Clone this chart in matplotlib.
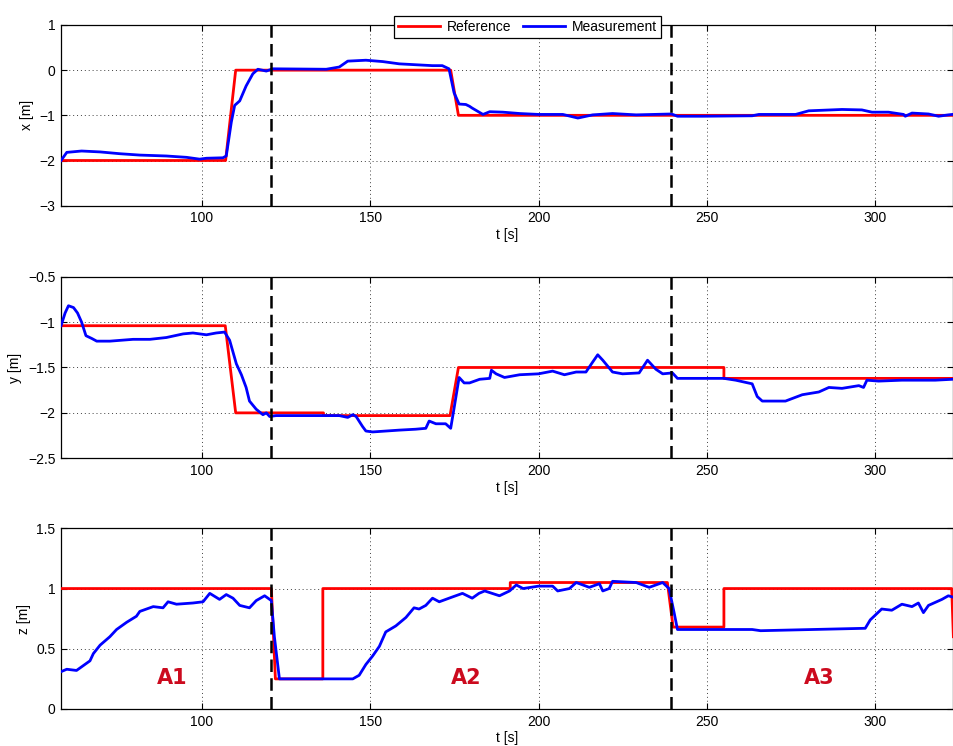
import matplotlib
matplotlib.use("Agg")
import matplotlib.pyplot as plt

plt.rcParams['font.family'] = ['Liberation Sans', 'DejaVu Sans']
plt.rcParams['font.size'] = 10

# ---- x position ----
x_ref_t = [58, 107.0, 110.0, 173.9, 176.2, 323.5]
x_ref = [-2, -2, 0, 0, -1, -1]
x_meas_t = [58.1, 59.8, 64.2, 69.7, 75.6, 81.5, 89.4, 95.4, 99.3, 101.3, 106.2, 107.2,
            108.7, 109.7, 111.2, 113.1, 115.1, 116.6, 119.1, 121.0, 136.9, 140.8, 143.3,
            148.7, 153.7, 158.6, 163.5, 168.5, 171.4, 173.4, 174.9, 176.4, 178.4, 179.5,
            180.3, 183.5, 185.5, 189.4, 194.4, 200.0, 207.2, 211.7, 216.1, 222.0, 229.0,
            239.5, 241.3, 248.7, 263.5, 265.5, 276.4, 280.3, 290.2, 296.1, 299.1, 304.0,
            308.5, 309.0, 311.0, 315.9, 318.9, 321.8, 323.0]
x_meas = [-2.0, -1.82, -1.79, -1.81, -1.85, -1.88, -1.9, -1.93, -1.97, -1.95, -1.94, -1.9,
          -1.15, -0.78, -0.68, -0.35, -0.08, 0.02, -0.02, 0.03, 0.02, 0.07, 0.2,
          0.22, 0.19, 0.14, 0.12, 0.1, 0.1, 0.03, -0.5, -0.75, -0.76, -0.8,
          -0.84, -0.98, -0.92, -0.93, -0.96, -0.98, -0.98, -1.06, -0.99, -0.96, -0.99,
          -0.97, -1.02, -1.02, -1.01, -0.98, -0.98, -0.9, -0.87, -0.88, -0.93, -0.93,
          -0.98, -1.02, -0.95, -0.97, -1.02, -0.99, -0.98]

# ---- y position ----
y_ref_t = [58, 106.9, 110.0, 136.1, 136.1, 173.7, 176.2, 255.1, 255.1, 323.5]
y_ref = [-1.04, -1.04, -2.0, -2.0, -2.03, -2.03, -1.5, -1.5, -1.62, -1.62]
y_meas_t = [58.1, 59.3, 60.3, 61.8, 63.0, 64.2, 65.5, 67.2, 68.7, 72.6, 79.5, 84.5, 89.4,
            94.4, 97.3, 101.3, 104.2, 106.7, 108.2, 110.2, 111.7, 113.1, 114.1, 116.1,
            118.1, 119.1, 120.1, 122.0, 140.8, 143.3, 144.8, 145.8, 147.7, 148.7, 150.7,
            158.6, 163.5, 166.5, 167.5, 169.5, 172.4, 173.9, 174.9, 176.4, 177.9, 179.5,
            182.5, 185.5, 186.0, 187.4, 189.9, 194.4, 200.0, 204.2, 207.7, 211.2, 214.1,
            216.1, 217.6, 219.1, 222.0, 225.0, 229.9, 232.4, 234.9, 236.9, 239.8, 240.8,
            241.3, 255.1, 258.6, 263.5, 265.0, 266.5, 273.4, 278.4, 283.3, 286.3, 290.2,
            295.2, 296.6, 297.6, 301.1, 308.0, 317.9, 323.0]
y_meas = [-1.04, -0.9, -0.82, -0.84, -0.9, -1.0, -1.15, -1.18, -1.21, -1.21, -1.19, -1.19, -1.17,
          -1.13, -1.12, -1.14, -1.12, -1.11, -1.2, -1.46, -1.58, -1.72, -1.87, -1.96,
          -2.02, -2.0, -2.04, -2.03, -2.03, -2.05, -2.02, -2.04, -2.15, -2.2, -2.21,
          -2.19, -2.18, -2.17, -2.09, -2.12, -2.12, -2.17, -1.95, -1.61, -1.67, -1.67,
          -1.63, -1.62, -1.53, -1.57, -1.61, -1.58, -1.57, -1.54, -1.58, -1.55, -1.55,
          -1.44, -1.36, -1.42, -1.55, -1.57, -1.56, -1.42, -1.52, -1.57, -1.56, -1.6,
          -1.62, -1.62, -1.64, -1.68, -1.82, -1.87, -1.87, -1.8, -1.77, -1.72, -1.73,
          -1.7, -1.72, -1.64, -1.65, -1.64, -1.64, -1.63]

# ---- z position ----
z_ref_t = [58, 120.6, 121.8, 135.9, 135.9, 191.6, 191.6, 238.3, 240.0, 255.1, 255.1, 322.8, 323.3]
z_ref = [1.0, 1.0, 0.25, 0.25, 1.0, 1.0, 1.05, 1.05, 0.68, 0.68, 1.0, 1.0, 0.6]
z_meas_t = [58.1, 59.8, 62.7, 64.7, 66.7, 67.7, 69.7, 72.6, 74.6, 77.6, 80.5, 81.5, 85.5,
            88.4, 89.9, 92.4, 97.3, 100.3, 102.3, 105.2, 107.2, 109.2, 111.2, 114.1, 116.1,
            118.6, 120.6, 121.5, 123.0, 144.8, 146.7, 148.7, 150.7, 152.7, 154.6, 157.6,
            160.6, 163.0, 164.5, 166.5, 168.5, 170.5, 174.4, 177.4, 180.3, 182.3, 184.0,
            188.4, 191.4, 193.4, 195.4, 200.0, 204.2, 205.7, 209.2, 211.2, 215.1, 218.1,
            219.1, 221.0, 222.0, 229.0, 232.9, 236.9, 238.8, 240.3, 241.3, 263.5, 266.0,
            297.1, 298.6, 302.0, 305.0, 308.0, 311.0, 312.9, 314.4, 315.9, 319.9, 321.8, 323.0]
z_meas = [0.31, 0.33, 0.32, 0.36, 0.4, 0.46, 0.53, 0.6, 0.66, 0.72, 0.77, 0.81, 0.85,
          0.84, 0.89, 0.87, 0.88, 0.89, 0.96, 0.91, 0.95, 0.92, 0.86, 0.84, 0.9,
          0.94, 0.9, 0.6, 0.25, 0.25, 0.28, 0.37, 0.44, 0.52, 0.64, 0.69,
          0.76, 0.84, 0.83, 0.86, 0.92, 0.89, 0.93, 0.96, 0.92, 0.96, 0.98,
          0.94, 0.98, 1.03, 1.0, 1.02, 1.02, 0.98, 1.0, 1.05, 1.01, 1.04,
          0.98, 1.0, 1.06, 1.05, 1.01, 1.05, 1.0, 0.8, 0.66, 0.66, 0.65,
          0.67, 0.74, 0.83, 0.82, 0.87, 0.85, 0.88, 0.8, 0.86, 0.91, 0.94, 0.93]

switch_t = [120.6, 239.5]
area_labels = ['A1', 'A2', 'A3']
area_t = [91.0, 178.5, 283.4]
area_y = 0.255

ylabels = ['x [m]', 'y [m]', 'z [m]']
ylims = [(-3, 1), (-2.5, -0.5), (0, 1.5)]
yticks = [[-3, -2, -1, 0, 1], [-2.5, -2, -1.5, -1, -0.5], [0, 0.5, 1, 1.5]]
yticklabels = [['\u22123', '\u22122', '\u22121', '0', '1'],
               ['\u22122.5', '\u22122', '\u22121.5', '\u22121', '\u22120.5'],
               ['0', '0.5', '1', '1.5']]
xticks = [100, 150, 200, 250, 300]

fig = plt.figure(figsize=(9.54, 7.46), dpi=100)
positions = [[0.064, 0.7243, 0.935, 0.2422],
             [0.064, 0.3857, 0.935, 0.2434],
             [0.064, 0.0496, 0.935, 0.2422]]
refs = [(x_ref_t, x_ref), (y_ref_t, y_ref), (z_ref_t, z_ref)]
meas = [(x_meas_t, x_meas), (y_meas_t, y_meas), (z_meas_t, z_meas)]

axes = []
for k in range(3):
    ax = fig.add_axes(positions[k])
    axes.append(ax)
    ax.plot(refs[k][0], refs[k][1], color='#ff0000', lw=2.0, label='Reference', zorder=3)
    ax.plot(meas[k][0], meas[k][1], color='#0000ff', lw=2.0, label='Measurement', zorder=4)
    for s in switch_t:
        ax.axvline(s, color='black', lw=1.8, ls=(0, (5, 2.5)), zorder=5)
    ax.set_xlim(58.1, 323.2)
    ax.set_ylim(*ylims[k])
    ax.set_yticks(yticks[k])
    ax.set_yticklabels(yticklabels[k])
    ax.set_xticks(xticks)
    ax.grid(True, color='0.25', ls=(0, (1, 3)), lw=0.7)
    ax.tick_params(direction='in', top=True, right=True, length=4, width=0.8, pad=4)
    for sp in ax.spines.values():
        sp.set_linewidth(0.9)
    ax.set_ylabel(ylabels[k], labelpad=4)
    ax.set_xlabel('t [s]', labelpad=2)

for lab, t in zip(area_labels, area_t):
    axes[2].text(t, area_y, lab, color='#cc0a1e', fontsize=15, fontweight='bold',
                 family='DejaVu Sans', ha='center', va='center')

leg = axes[0].legend(loc='upper center', bbox_to_anchor=(0.553, 0.988),
                     bbox_transform=fig.transFigure, ncol=2, fancybox=False,
                     framealpha=1, edgecolor='black', borderpad=0.3,
                     handlelength=3.0, columnspacing=0.9, handletextpad=0.5)
leg.get_frame().set_linewidth(0.9)
leg.set_zorder(10)

fig.savefig('out.png', dpi=100)
